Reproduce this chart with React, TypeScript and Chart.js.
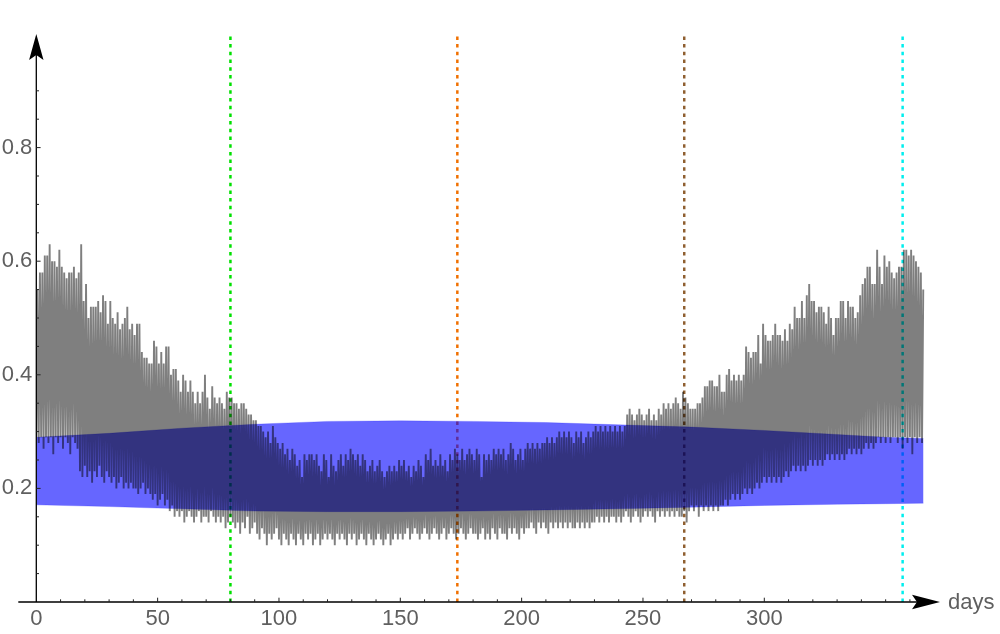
import React, { useEffect, useRef } from 'react';
import { Chart, registerables } from 'chart.js';

Chart.register(...registerables);

// ---------- axis ranges & labels ----------
const X_MAX = 372.4;
const Y_MAX = 1.0;
const xTickValues = [0, 50, 100, 150, 200, 250, 300];
const xTickLabels = ['0', '50', '100', '150', '200', '250', '300'];
const yTickValues = [0.2, 0.4, 0.6, 0.8];
const yTickLabels = ['0.2', '0.4', '0.6', '0.8'];
const xAxisLabel = 'days';

// ---------- gray series: daily peak (midday) values, day 0..365 ----------
const grayDailyHigh = [
  0.55, 0.58, 0.58, 0.61, 0.61, 0.63, 0.60, 0.60, 0.59, 0.62,
  0.59, 0.58, 0.57, 0.58, 0.58, 0.59, 0.57, 0.58, 0.63, 0.53,
  0.56, 0.50, 0.52, 0.52, 0.52, 0.53, 0.51, 0.54, 0.53, 0.49,
  0.53, 0.50, 0.49, 0.51, 0.48, 0.49, 0.50, 0.52, 0.48, 0.49,
  0.47, 0.49, 0.49, 0.44, 0.43, 0.43, 0.42, 0.42, 0.46, 0.45,
  0.42, 0.44, 0.42, 0.45, 0.45, 0.40, 0.41, 0.41, 0.39, 0.37,
  0.40, 0.39, 0.37, 0.39, 0.37, 0.35, 0.37, 0.35, 0.37, 0.40,
  0.36, 0.34, 0.38, 0.36, 0.35, 0.36, 0.35, 0.34, 0.37, 0.36,
  0.36, 0.35, 0.35, 0.34, 0.35, 0.35, 0.34, 0.33, 0.33, 0.32,
  0.32, 0.31, 0.31, 0.30, 0.29, 0.30, 0.28, 0.31, 0.29, 0.28,
  0.27, 0.28, 0.26, 0.27, 0.25, 0.27, 0.26, 0.24, 0.25, 0.22,
  0.26, 0.25, 0.26, 0.26, 0.25, 0.26, 0.24, 0.23, 0.26, 0.25,
  0.22, 0.26, 0.24, 0.23, 0.25, 0.26, 0.24, 0.26, 0.25, 0.27,
  0.26, 0.25, 0.26, 0.24, 0.26, 0.25, 0.23, 0.24, 0.25, 0.23,
  0.24, 0.25, 0.23, 0.22, 0.23, 0.24, 0.23, 0.24, 0.23, 0.25,
  0.24, 0.25, 0.23, 0.24, 0.22, 0.24, 0.23, 0.25, 0.24, 0.22,
  0.26, 0.25, 0.27, 0.24, 0.25, 0.24, 0.26, 0.24, 0.25, 0.23,
  0.26, 0.25, 0.27, 0.26, 0.25, 0.27, 0.25, 0.26, 0.27, 0.26,
  0.25, 0.27, 0.26, 0.22, 0.26, 0.25, 0.26, 0.25, 0.27, 0.26,
  0.27, 0.26, 0.27, 0.25, 0.26, 0.28, 0.27, 0.25, 0.26, 0.27,
  0.25, 0.27, 0.28, 0.27, 0.28, 0.27, 0.28, 0.27, 0.28, 0.28,
  0.29, 0.28, 0.29, 0.28, 0.29, 0.30, 0.29, 0.30, 0.29, 0.30,
  0.29, 0.28, 0.30, 0.29, 0.30, 0.28, 0.29, 0.30, 0.29, 0.30,
  0.31, 0.30, 0.31, 0.30, 0.31, 0.30, 0.31, 0.30, 0.31, 0.30,
  0.31, 0.30, 0.31, 0.33, 0.34, 0.33, 0.32, 0.33, 0.34, 0.33,
  0.32, 0.33, 0.34, 0.32, 0.33, 0.32, 0.34, 0.33, 0.35, 0.34,
  0.35, 0.34, 0.35, 0.36, 0.35, 0.34, 0.37, 0.36, 0.35, 0.34,
  0.34, 0.34, 0.35, 0.35, 0.36, 0.38, 0.38, 0.39, 0.39, 0.38,
  0.38, 0.40, 0.37, 0.37, 0.40, 0.41, 0.39, 0.40, 0.39, 0.40,
  0.39, 0.40, 0.45, 0.44, 0.43, 0.44, 0.44, 0.47, 0.42, 0.49,
  0.47, 0.46, 0.46, 0.47, 0.49, 0.47, 0.47, 0.46, 0.48, 0.46,
  0.49, 0.48, 0.52, 0.50, 0.50, 0.53, 0.50, 0.54, 0.56, 0.53,
  0.53, 0.51, 0.52, 0.52, 0.51, 0.49, 0.52, 0.50, 0.47, 0.50,
  0.50, 0.53, 0.53, 0.50, 0.53, 0.52, 0.52, 0.50, 0.51, 0.54,
  0.56, 0.57, 0.59, 0.59, 0.56, 0.56, 0.62, 0.59, 0.56, 0.61,
  0.59, 0.60, 0.58, 0.57, 0.58, 0.59, 0.59, 0.62, 0.62, 0.61,
  0.62, 0.61, 0.60, 0.59, 0.58, 0.55,
];

// ---------- gray series: daily trough (midnight) values, day 0..365 ----------
const grayDailyLow = [
  0.29, 0.28, 0.29, 0.27, 0.29, 0.28, 0.29, 0.26, 0.29, 0.28,
  0.29, 0.27, 0.29, 0.28, 0.26, 0.29, 0.28, 0.27, 0.23, 0.22,
  0.24, 0.22, 0.23, 0.21, 0.23, 0.22, 0.24, 0.22, 0.21, 0.23,
  0.22, 0.21, 0.22, 0.20, 0.21, 0.22, 0.20, 0.21, 0.20, 0.21,
  0.20, 0.20, 0.19, 0.20, 0.21, 0.19, 0.20, 0.19, 0.18, 0.19,
  0.17, 0.18, 0.19, 0.17, 0.18, 0.16, 0.17, 0.15, 0.16, 0.15,
  0.16, 0.14, 0.15, 0.16, 0.15, 0.14, 0.15, 0.16, 0.14, 0.15,
  0.15, 0.14, 0.16, 0.15, 0.14, 0.15, 0.14, 0.15, 0.13, 0.14,
  0.15, 0.14, 0.13, 0.14, 0.12, 0.14, 0.13, 0.15, 0.12, 0.13,
  0.14, 0.12, 0.11, 0.13, 0.12, 0.10, 0.12, 0.11, 0.12, 0.13,
  0.11, 0.10, 0.12, 0.11, 0.10, 0.12, 0.11, 0.10, 0.12, 0.11,
  0.10, 0.12, 0.11, 0.12, 0.10, 0.11, 0.12, 0.10, 0.11, 0.12,
  0.11, 0.12, 0.11, 0.10, 0.12, 0.11, 0.12, 0.11, 0.10, 0.12,
  0.11, 0.12, 0.10, 0.11, 0.12, 0.11, 0.10, 0.12, 0.11, 0.10,
  0.11, 0.12, 0.11, 0.10, 0.11, 0.12, 0.10, 0.11, 0.12, 0.11,
  0.12, 0.11, 0.12, 0.13, 0.11, 0.12, 0.13, 0.12, 0.11, 0.12,
  0.13, 0.12, 0.11, 0.12, 0.13, 0.12, 0.11, 0.12, 0.13, 0.11,
  0.12, 0.13, 0.12, 0.11, 0.12, 0.13, 0.12, 0.11, 0.12, 0.13,
  0.12, 0.12, 0.11, 0.12, 0.13, 0.11, 0.12, 0.11, 0.13, 0.12,
  0.11, 0.13, 0.12, 0.12, 0.11, 0.13, 0.12, 0.13, 0.12, 0.11,
  0.13, 0.12, 0.13, 0.13, 0.14, 0.13, 0.12, 0.14, 0.13, 0.14,
  0.13, 0.12, 0.14, 0.13, 0.14, 0.13, 0.14, 0.13, 0.14, 0.13,
  0.14, 0.13, 0.13, 0.14, 0.13, 0.14, 0.13, 0.14, 0.13, 0.14,
  0.14, 0.15, 0.14, 0.15, 0.14, 0.15, 0.14, 0.15, 0.15, 0.14,
  0.15, 0.14, 0.15, 0.16, 0.15, 0.14, 0.15, 0.16, 0.15, 0.14,
  0.15, 0.16, 0.15, 0.16, 0.15, 0.14, 0.16, 0.15, 0.16, 0.15,
  0.16, 0.15, 0.16, 0.15, 0.16, 0.15, 0.15, 0.16, 0.14, 0.16,
  0.17, 0.16, 0.17, 0.15, 0.17, 0.16, 0.17, 0.16, 0.17, 0.16,
  0.17, 0.16, 0.17, 0.17, 0.18, 0.17, 0.18, 0.19, 0.18, 0.19,
  0.18, 0.19, 0.20, 0.19, 0.20, 0.19, 0.20, 0.21, 0.20, 0.21,
  0.22, 0.21, 0.22, 0.21, 0.22, 0.21, 0.22, 0.21, 0.22, 0.23,
  0.22, 0.23, 0.24, 0.23, 0.24, 0.23, 0.24, 0.23, 0.24, 0.25,
  0.24, 0.25, 0.24, 0.25, 0.24, 0.25, 0.26, 0.25, 0.26, 0.25,
  0.26, 0.25, 0.26, 0.25, 0.26, 0.27, 0.26, 0.27, 0.26, 0.27,
  0.26, 0.27, 0.28, 0.27, 0.28, 0.27, 0.28, 0.29, 0.28, 0.29,
  0.28, 0.29, 0.28, 0.29, 0.29, 0.28, 0.29, 0.27, 0.29, 0.28,
  0.29, 0.26, 0.29, 0.28, 0.29, 0.28,
];

// ---------- blue series: envelope of its daily swing ----------
const blueDays = [0, 30, 60, 90, 120, 150, 180, 210, 240, 270, 300, 330, 350, 365.6];
const blueUpper = [0.290, 0.297, 0.306, 0.313, 0.318, 0.319, 0.318, 0.316, 0.312, 0.308, 0.302, 0.295, 0.290, 0.288];
const blueLower = [0.171, 0.168, 0.164, 0.160, 0.159, 0.159, 0.160, 0.162, 0.164, 0.167, 0.170, 0.172, 0.173, 0.174];

// ---------- vertical dotted markers ----------
const markerDays = [80, 173.5, 267, 357];
const markerColors = ['#00e000', '#f07000', '#8f5f30', '#00eeee'];

const FONT = '"Liberation Sans", Arial, Helvetica, sans-serif';
const LABEL_COLOR = '#5f5f5f';

const mmaAxes = {
  id: 'mmaAxes',
  afterDatasetsDraw(chart: any) {
    const { ctx, scales } = chart;
    const xs = scales.x;
    const ys = scales.y;
    const x0 = xs.getPixelForValue(0);
    const y0 = ys.getPixelForValue(0);
    const xEnd = xs.getPixelForValue(X_MAX);
    const yTop = ys.getPixelForValue(Y_MAX);
    ctx.save();
    ctx.strokeStyle = '#000';
    ctx.fillStyle = '#000';
    ctx.lineWidth = 1.3;
    ctx.beginPath();
    ctx.moveTo(x0 - 18, y0);
    ctx.lineTo(xEnd - 22, y0);
    ctx.moveTo(x0, y0);
    ctx.lineTo(x0, yTop + 20);
    ctx.stroke();
    // arrowheads
    ctx.beginPath();
    ctx.moveTo(xEnd, y0);
    ctx.lineTo(xEnd - 28, y0 - 7.3);
    ctx.lineTo(xEnd - 23, y0);
    ctx.lineTo(xEnd - 28, y0 + 7.3);
    ctx.closePath();
    ctx.fill();
    ctx.beginPath();
    ctx.moveTo(x0, yTop);
    ctx.lineTo(x0 - 7.2, yTop + 26);
    ctx.lineTo(x0, yTop + 21);
    ctx.lineTo(x0 + 7.2, yTop + 26);
    ctx.closePath();
    ctx.fill();
    // ticks
    ctx.lineWidth = 1;
    ctx.strokeStyle = '#222';
    ctx.beginPath();
    for (let d = 10; d <= 360; d += 10) {
      const px = xs.getPixelForValue(d);
      const len = d % 50 === 0 && d <= 300 ? 4.3 : 2.7;
      ctx.moveTo(px, y0);
      ctx.lineTo(px, y0 - len);
    }
    for (let k = 1; k <= 19; k++) {
      const py = ys.getPixelForValue(k * 0.05);
      if (py < yTop + 30) continue;
      const len = k % 4 === 0 ? 4.3 : 2.7;
      ctx.moveTo(x0, py);
      ctx.lineTo(x0 + len, py);
    }
    ctx.stroke();
    ctx.font = `22px ${FONT}`;
    ctx.fillStyle = LABEL_COLOR;
    ctx.textAlign = 'left';
    ctx.textBaseline = 'alphabetic';
    ctx.fillText(xAxisLabel, xEnd + 8, y0 + 7);
    ctx.restore();
  },
};

export default function App() {
  const canvasRef = useRef<HTMLCanvasElement | null>(null);

  useEffect(() => {
    document.body.style.margin = '0';
    const canvas = canvasRef.current;
    if (!canvas) return;

    const grayPoints: { x: number; y: number }[] = [];
    grayDailyLow.forEach((lo, i) => {
      grayPoints.push({ x: i, y: lo });
      grayPoints.push({ x: i + 0.5, y: grayDailyHigh[i] });
    });

    const datasets: any[] = [
      {
        label: 'gray',
        data: grayPoints,
        borderColor: 'rgba(0,0,0,0.5)',
        borderWidth: 1.9,
        pointRadius: 0,
        fill: false,
        order: 0,
      },
      {
        label: 'blueUpper',
        data: blueDays.map((d, i) => ({ x: d, y: blueUpper[i] })),
        borderColor: 'rgba(0,0,255,0.25)',
        borderWidth: 0.8,
        backgroundColor: 'rgba(0,0,255,0.6)',
        pointRadius: 0,
        fill: '+1',
        order: 1,
      },
      {
        label: 'blueLower',
        data: blueDays.map((d, i) => ({ x: d, y: blueLower[i] })),
        borderColor: 'rgba(0,0,255,0.25)',
        borderWidth: 0.8,
        pointRadius: 0,
        fill: false,
        order: 2,
      },
      ...markerDays.map((d, i) => ({
        label: 'marker' + i,
        data: [
          { x: d, y: 0 },
          { x: d, y: Y_MAX },
        ],
        borderColor: markerColors[i],
        borderWidth: 2.5,
        borderDash: [3.5, 4.2],
        pointRadius: 0,
        fill: false,
        order: 3 + i,
      })),
    ];

    const chart = new Chart(canvas, {
      type: 'line',
      data: { datasets },
      options: {
        responsive: false,
        animation: false,
        devicePixelRatio: 1,
        layout: { padding: { top: 34, right: 60, left: 0, bottom: 0 } },
        elements: { line: { tension: 0 }, point: { radius: 0 } },
        plugins: {
          legend: { display: false },
          tooltip: { enabled: false },
        },
        scales: {
          x: {
            type: 'linear',
            min: 0,
            max: X_MAX,
            grid: { display: false, drawTicks: false },
            border: { display: false },
            afterBuildTicks: (s: any) => {
              s.ticks = xTickValues.map((v) => ({ value: v }));
            },
            afterFit: (s: any) => {
              s.height = 32;
            },
            ticks: {
              autoSkip: false,
              maxRotation: 0,
              padding: 4,
              color: LABEL_COLOR,
              font: { family: FONT, size: 22 },
              callback: (_v: any, i: number) => xTickLabels[i],
            },
          },
          y: {
            type: 'linear',
            min: 0,
            max: Y_MAX,
            grid: { display: false, drawTicks: false },
            border: { display: false },
            afterBuildTicks: (s: any) => {
              s.ticks = yTickValues.map((v) => ({ value: v }));
            },
            afterFit: (s: any) => {
              s.width = 36.3;
            },
            ticks: {
              autoSkip: false,
              padding: 4,
              color: LABEL_COLOR,
              font: { family: FONT, size: 22 },
              callback: (_v: any, i: number) => yTickLabels[i],
            },
          },
        },
      } as any,
      plugins: [mmaAxes],
    });

    return () => chart.destroy();
  }, []);

  return (
    <div style={{ position: 'fixed', left: 0, top: 0, width: 1000, height: 634, background: '#fff' }}>
      <canvas ref={canvasRef} width={1000} height={634} style={{ display: 'block' }} />
    </div>
  );
}
